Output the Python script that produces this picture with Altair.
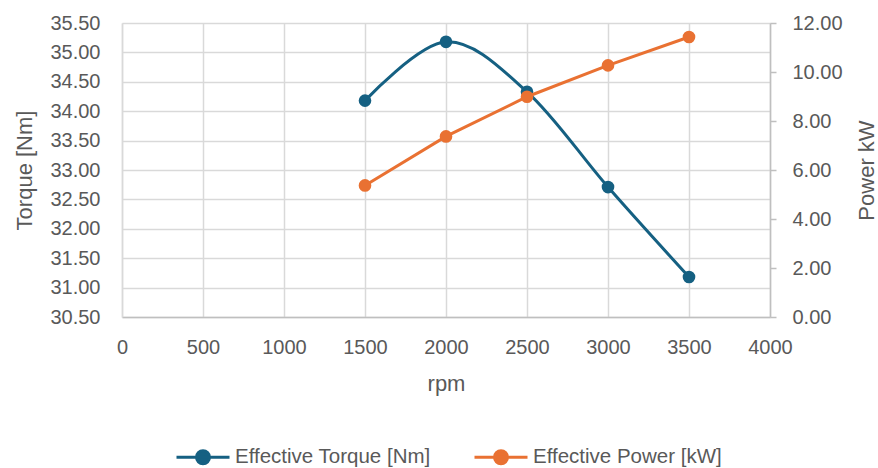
import altair as alt
import pandas as pd

# Engine test results
rpm = [1500, 2000, 2500, 3000, 3500]
torque_nm = [34.18, 35.18, 34.33, 32.71, 31.18]
power_kw = [5.37, 7.37, 8.99, 10.27, 11.43]

series_names = ["Effective Torque [Nm]", "Effective Power [kW]"]
series_colors = ["#156082", "#E97132"]

x_ticks = [0, 500, 1000, 1500, 2000, 2500, 3000, 3500, 4000]
torque_ticks = [30.5, 31.0, 31.5, 32.0, 32.5, 33.0, 33.5, 34.0, 34.5, 35.0, 35.5]
power_ticks = [0, 2, 4, 6, 8, 10, 12]

torque_df = pd.DataFrame({"rpm": rpm, "value": torque_nm, "series": series_names[0]})
power_df = pd.DataFrame({"rpm": rpm, "value": power_kw, "series": series_names[1]})

FONT = "Liberation Sans"
TEXT = "#595959"
GRID = "#D9D9D9"
AXIS = "#BFBFBF"

# legend glyph: short line with a dot in the middle
LEGEND_GLYPH = "M-1,0L1,0M-0.245,0A0.245,0.245,0,1,0,0.245,0A0.245,0.245,0,1,0,-0.245,0Z"

x_enc = alt.X(
    "rpm:Q",
    scale=alt.Scale(domain=[0, 4000], nice=False, zero=False),
    axis=alt.Axis(
        title="rpm", values=x_ticks, format="d", grid=True, gridColor=GRID, gridWidth=1.5,
        domainColor=AXIS, domainWidth=1.5, ticks=False, labelFlush=False,
        labelFont=FONT, labelFontSize=20, labelColor=TEXT, labelPadding=20,
        titleFont=FONT, titleFontSize=22, titleFontWeight="normal", titleColor=TEXT,
        titlePadding=16,
    ),
)

color_enc = alt.Color(
    "series:N",
    scale=alt.Scale(domain=series_names, range=series_colors),
    legend=alt.Legend(
        title=None, orient="none", direction="horizontal", legendX=53, legendY=406,
        symbolType=LEGEND_GLYPH, symbolSize=2809, symbolStrokeWidth=3,
        labelFont=FONT, labelFontSize=20.5, labelColor=TEXT, labelLimit=400,
        labelOffset=4, columnPadding=37, padding=0,
    ),
)

torque_y = alt.Y(
    "value:Q",
    scale=alt.Scale(domain=[30.5, 35.5], nice=False, zero=False),
    axis=alt.Axis(
        title="Torque [Nm]", orient="left", values=torque_ticks, format=".2f",
        grid=True, gridColor=GRID, gridWidth=1.5, domainColor=GRID, domainWidth=1.5, ticks=False,
        labelFont=FONT, labelFontSize=20, labelColor=TEXT, labelPadding=22,
        titleFont=FONT, titleFontSize=22, titleFontWeight="normal", titleColor=TEXT,
        titlePadding=13,
    ),
)

power_y = alt.Y(
    "value:Q",
    scale=alt.Scale(domain=[0, 12], nice=False, zero=False),
    axis=alt.Axis(
        title="Power kW", orient="right", values=power_ticks, format=".2f",
        grid=False, domainColor=AXIS, domainWidth=1.5, ticks=True, tickColor=AXIS, tickWidth=1.5,
        tickSize=6, labelFont=FONT, labelFontSize=20, labelColor=TEXT, labelPadding=16,
        titleFont=FONT, titleFontSize=22, titleFontWeight="normal", titleColor=TEXT,
        titleAngle=270, titleBaseline="top", titlePadding=14,
    ),
)

torque_base = alt.Chart(torque_df).encode(x=x_enc, y=torque_y, color=color_enc)
power_base = alt.Chart(power_df).encode(x=x_enc, y=power_y, color=color_enc)

torque_layer = alt.layer(
    torque_base.mark_line(strokeWidth=3, interpolate="cardinal"),
    torque_base.mark_point(filled=True, size=160, opacity=1),
)
power_layer = alt.layer(
    power_base.mark_line(strokeWidth=3),
    power_base.mark_point(filled=True, size=160, opacity=1),
)

chart = (
    alt.layer(torque_layer, power_layer)
    .resolve_scale(y="independent")
    .properties(
        width=648, height=294,
        autosize=alt.AutoSizeParams(type="none"),
        padding={"left": 122, "top": 23, "right": 108, "bottom": 151},
        background="white",
    )
    .configure_view(stroke=None)
)

chart.save("out.html", embed_options={"renderer": "svg", "actions": False})
